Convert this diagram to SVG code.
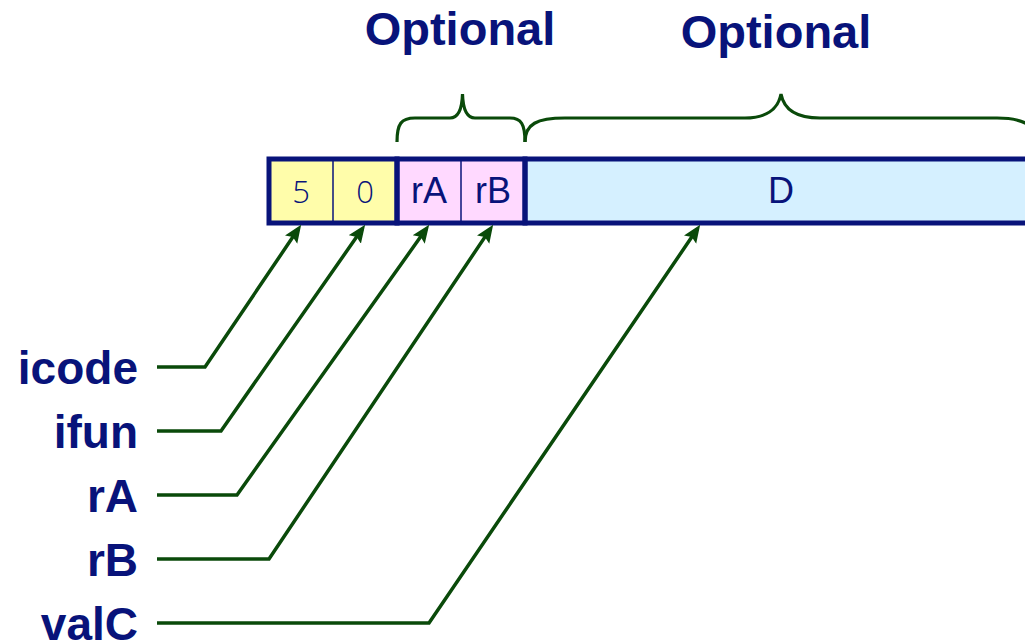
<svg xmlns="http://www.w3.org/2000/svg" width="1025" height="640" viewBox="0 0 1025 640">
  <defs>
    <style>
      .lbl { font-family: "Liberation Sans", Arial, sans-serif; font-weight: bold; font-size: 46px; fill: #08137A; }
      .opt { font-family: "Liberation Sans", Arial, sans-serif; font-weight: bold; font-size: 47px; fill: #08137A; text-anchor: middle; }
      .cell { font-family: "Liberation Sans", Arial, sans-serif; font-size: 36px; fill: #08137A; text-anchor: middle; }
      .num { font-family: "Open Sans", "Liberation Sans", sans-serif; font-weight: 300; font-size: 31px; fill: #08137A; text-anchor: middle; }
      .field { fill: none; stroke: #08137A; stroke-width: 5; }
      .div { stroke: #08137A; stroke-width: 1.5; }
      .conn { fill: none; stroke: #0A4A0A; stroke-width: 3.5; marker-end: url(#arr); }
      .brace { fill: none; stroke: #0A4A0A; stroke-width: 3.2; }
    </style>
    <marker id="arr" markerUnits="userSpaceOnUse" markerWidth="18" markerHeight="16" refX="12" refY="7" orient="auto" viewBox="0 0 17 14">
      <path d="M0,0 L17,7 L0,14 L3,7 z" fill="#0A4A0A"/>
    </marker>
  </defs>

  <g id="optional-labels">
    <text class="opt" x="460" y="45">Optional</text>
    <text class="opt" x="776" y="48">Optional</text>
  </g>

  <g id="braces">
    <path class="brace" d="M397,142 C397,124 401,118 415,118 L450,118 C458,118 462,110 462.5,94 C463,110 467,118 475,118 L510,118 C521,118 525,124 525,142"/>
    <path class="brace" d="M525,142 C525,124 537,118 565,118 L745,118 C765,118 778,110 781,94 C784,110 797,118 820,118 L997,118 C1022,118 1037,125 1037,142"/>
  </g>

  <g id="byte-icode">
    <rect x="269" y="159" width="64" height="64" fill="#FFFDAA"/>
    <text class="num" x="301" y="203">5</text>
  </g>
  <g id="byte-ifun">
    <rect x="333" y="159" width="64" height="64" fill="#FFFDAA"/>
    <text class="num" x="365" y="203">0</text>
  </g>
  <g id="byte-rA">
    <rect x="397" y="159" width="64" height="64" fill="#FFD9FF"/>
    <text class="cell" x="429" y="203">rA</text>
  </g>
  <g id="byte-rB">
    <rect x="461" y="159" width="64" height="64" fill="#FFD9FF"/>
    <text class="cell" x="493" y="203">rB</text>
  </g>
  <g id="field-D">
    <rect x="525" y="159" width="512" height="64" fill="#D5F0FF"/>
    <text class="cell" x="781" y="203">D</text>
  </g>
  <g id="borders">
    <line class="div" x1="333" y1="159" x2="333" y2="223"/>
    <line class="div" x1="461" y1="159" x2="461" y2="223"/>
    <rect class="field" x="269" y="159" width="128" height="64"/>
    <rect class="field" x="397" y="159" width="128" height="64"/>
    <rect class="field" x="525" y="159" width="512" height="64"/>
  </g>

  <g id="labels">
    <text class="lbl" x="138" y="384" text-anchor="end">icode</text>
    <text class="lbl" x="138" y="448" text-anchor="end">ifun</text>
    <text class="lbl" x="138" y="512" text-anchor="end">rA</text>
    <text class="lbl" x="138" y="576" text-anchor="end">rB</text>
    <text class="lbl" x="138" y="640" text-anchor="end">valC</text>
  </g>

  <g id="connectors">
    <polyline class="conn" points="157,367 205,367 298.2,229.1"/>
    <polyline class="conn" points="157,431 221,431 362.1,229.1"/>
    <polyline class="conn" points="157,495 237,495 426.1,229.1"/>
    <polyline class="conn" points="157,559 269,559 490.2,229.1"/>
    <polyline class="conn" points="157,623 429,623 697.2,229.1"/>
  </g>
</svg>
